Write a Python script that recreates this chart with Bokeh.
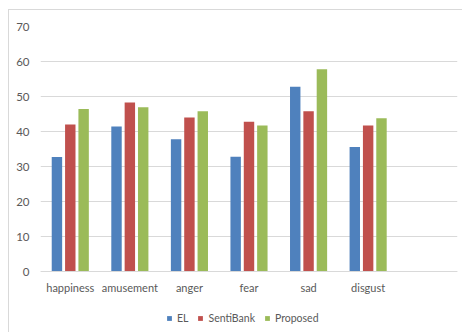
from bokeh.plotting import figure
from bokeh.models import Range1d, FixedTicker, Legend, LegendItem, ColumnDataSource
from bokeh.embed import file_html
from bokeh.resources import INLINE

categories = ["happiness", "amusement", "anger", "fear", "sad", "disgust"]
el = [32.7, 41.4, 37.8, 32.8, 52.8, 35.6]
sentibank = [42.0, 48.3, 44.0, 42.8, 45.8, 41.7]
proposed = [46.4, 46.9, 45.8, 41.7, 57.8, 43.8]
series_names = ["EL", "SentiBank", "Proposed"]
y_ticks = [0, 10, 20, 30, 40, 50, 60, 70]

colors = ["#4F81BD", "#C0504D", "#9BBB59"]
offsets = [-0.224, 0.0, 0.224]

# frame spans to bottom of canvas; value 0 sits 62px above the bottom (3.5 px per unit)
y_bottom = -62 / 3.5

p = figure(width=454, height=323, output_backend="svg", toolbar_location=None,
           x_range=Range1d(0, 7), y_range=Range1d(y_bottom, 70),
           min_border_left=31, min_border_right=6, min_border_top=16, min_border_bottom=0)
p.margin = (9, 0, 0, 8)
p.styles = {"border-left": "1px solid #d9d9d9", "border-top": "1px solid #d9d9d9"}
p.outline_line_color = None
p.background_fill_color = "white"
p.border_fill_color = "white"

centers = [i + 0.5 for i in range(len(categories))]
renderers = []
for vals, name, col, off in zip([el, sentibank, proposed], series_names, colors, offsets):
    src = ColumnDataSource(dict(x=[c + off for c in centers], top=vals))
    r = p.vbar(x="x", top="top", width=0.175, bottom=0, source=src,
               fill_color=col, line_color=None)
    renderers.append((name, r))

p.xgrid.grid_line_color = None
p.ygrid.grid_line_color = "#d9d9d9"
p.ygrid.ticker = FixedTicker(ticks=y_ticks)

p.yaxis.ticker = FixedTicker(ticks=y_ticks)
p.yaxis.axis_line_color = None
p.yaxis.major_tick_line_color = None
p.yaxis.minor_tick_line_color = None
p.yaxis.major_tick_out = 0
p.yaxis.major_label_text_color = "#595959"
p.yaxis.major_label_text_font = "Lato"
p.yaxis.major_label_text_font_size = "11.5px"
p.yaxis.major_label_standoff = 11

p.xaxis.fixed_location = 0
p.xaxis.ticker = FixedTicker(ticks=centers)
p.xaxis.major_label_overrides = {c: lab for c, lab in zip(centers, categories)}
p.xaxis.axis_line_color = "#d9d9d9"
p.xaxis.major_tick_line_color = None
p.xaxis.minor_tick_line_color = None
p.xaxis.major_tick_out = 0
p.xaxis.major_label_text_color = "#595959"
p.xaxis.major_label_text_font = "Lato"
p.xaxis.major_label_text_font_size = "11px"
p.xaxis.major_label_standoff = 9

legend = Legend(items=[LegendItem(label=n, renderers=[r]) for n, r in renderers],
                orientation="horizontal", location=(126, 8),
                glyph_width=6, glyph_height=6, label_standoff=5, spacing=9,
                label_width=0, padding=0, margin=0, border_line_color=None,
                background_fill_alpha=0,
                label_text_color="#595959", label_text_font="Lato",
                label_text_font_size="10.5px", label_height=14)
p.add_layout(legend, "center")

open("out.html", "w").write(file_html(p, INLINE))
